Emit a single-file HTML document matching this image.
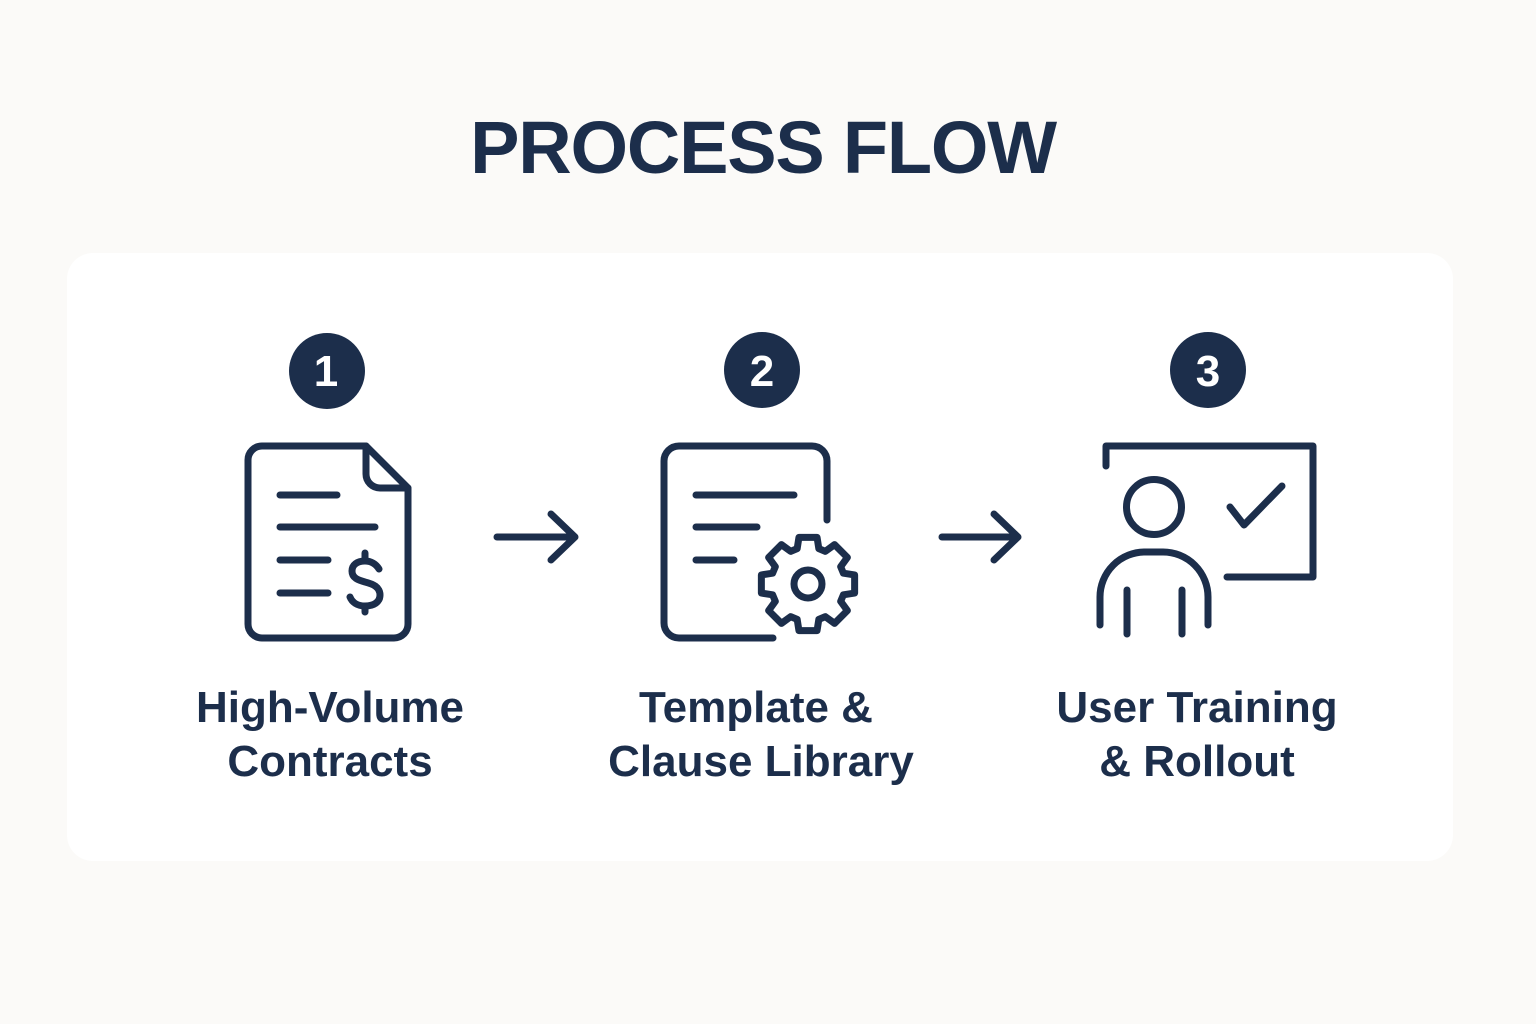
<!DOCTYPE html>
<html>
<head>
<meta charset="utf-8">
<style>
  html,body{margin:0;padding:0;background:#fbfaf8;}
  svg{display:block;}
  text{font-family:"Liberation Sans",Arial,sans-serif;font-weight:bold;fill:#1c2e4b;}
</style>
</head>
<body>
<svg width="1536" height="1024" viewBox="0 0 1536 1024" xmlns="http://www.w3.org/2000/svg">
  <rect x="0" y="0" width="1536" height="1024" fill="#fbfaf8"/>
  <rect x="67" y="253" width="1386" height="608" rx="26" ry="26" fill="#ffffff"/>

  <text x="763" y="173" font-size="74" text-anchor="middle" letter-spacing="-1.2">PROCESS FLOW</text>

  <!-- number circles -->
  <circle cx="327" cy="371" r="38" fill="#1c2e4b"/>
  <circle cx="762" cy="370" r="38" fill="#1c2e4b"/>
  <circle cx="1208" cy="370" r="38" fill="#1c2e4b"/>
  <text x="326" y="386" font-size="44" text-anchor="middle" style="fill:#fff">1</text>
  <text x="762" y="386" font-size="44" text-anchor="middle" style="fill:#fff">2</text>
  <text x="1208" y="386" font-size="44" text-anchor="middle" style="fill:#fff">3</text>

  <g fill="none" stroke="#1c2e4b" stroke-width="7" stroke-linecap="round" stroke-linejoin="round">
    <!-- Doc 1 -->
    <path d="M366,446 H262 A14,14 0 0 0 248,460 V624 A14,14 0 0 0 262,638 H394 A14,14 0 0 0 408,624 V488 Z"/>
    <path d="M366,446 V474 A14,14 0 0 0 380,488 H408"/>
    <path d="M280,495 H337 M280,527 H375 M280,560 H328 M280,593 H328"/>
    <path d="M379,569 C376,564 371,561 365,561 C357,561 352,565 352,571 C352,578 358,580 365,582 C373,584 380,587 380,595 C380,602 374,606 365,606 C357,606 352,602 350,597"/>
    <path d="M365,553 V561 M365,606 V612"/>

    <!-- Arrow 1 -->
    <path d="M497,537 H575 M551,514 L575,537 L551,560"/>

    <!-- Doc 2 -->
    <path d="M827,520 V461 A15,15 0 0 0 812,446 H679 A15,15 0 0 0 664,461 V623 A15,15 0 0 0 679,638 H773"/>
    <path d="M696,495 H794 M696,527 H757 M696,560 H734"/>
    <g transform="translate(808,584)">
      <polygon points="35.38,-10.82 46.63,-9.06 46.63,9.06 35.38,10.82 32.67,17.37 39.38,26.57 26.57,39.38 17.37,32.67 10.82,35.38 9.06,46.63 -9.06,46.63 -10.82,35.38 -17.37,32.67 -26.57,39.38 -39.38,26.57 -32.67,17.37 -35.38,10.82 -46.63,9.06 -46.63,-9.06 -35.38,-10.82 -32.67,-17.37 -39.38,-26.57 -26.57,-39.38 -17.37,-32.67 -10.82,-35.38 -9.06,-46.63 9.06,-46.63 10.82,-35.38 17.37,-32.67 26.57,-39.38 39.38,-26.57 32.67,-17.37"/>
      <circle cx="0" cy="0" r="14"/>
    </g>

    <!-- Arrow 2 -->
    <path d="M942,537 H1018 M994,514 L1018,537 L994,560"/>

    <!-- Icon 3 -->
    <path d="M1106,466 V446 H1313 V577 H1227"/>
    <path d="M1230,507 L1244,525 L1282,486"/>
    <circle cx="1154" cy="507" r="27.5"/>
    <path d="M1100,625 V597 A45,45 0 0 1 1145,552 H1163 A45,45 0 0 1 1208,597 V625"/>
    <path d="M1127,590 V634 M1182,590 V634"/>
  </g>

  <!-- Labels -->
  <text x="330" y="722" font-size="44" text-anchor="middle">High-Volume</text>
  <text x="330" y="776" font-size="44" text-anchor="middle">Contracts</text>
  <text x="756" y="722" font-size="44" text-anchor="middle">Template &amp;</text>
  <text x="761" y="776" font-size="44" text-anchor="middle">Clause Library</text>
  <text x="1197" y="722" font-size="44" text-anchor="middle">User Training</text>
  <text x="1197" y="776" font-size="44" text-anchor="middle">&amp; Rollout</text>
</svg>
</body>
</html>
